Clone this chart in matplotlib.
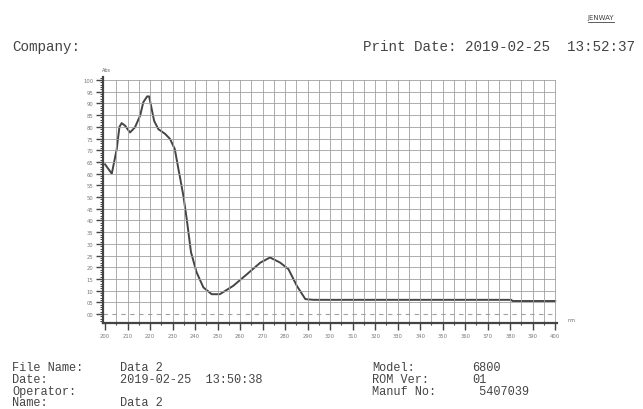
import matplotlib
matplotlib.use('Agg')
import matplotlib.pyplot as plt
from matplotlib.ticker import MultipleLocator, FixedLocator
from matplotlib.lines import Line2D

# scan data (wavelength in nm, absorbance scale 0-100)
wavelength = [200, 203, 205.2, 206.4, 207.4, 208.9, 211.1, 213.3, 215.6, 217, 218.7,
              219.6, 220.3, 221.8, 223.7, 226.7, 228.9, 231, 232.6, 233.3, 234.8,
              236.3, 238.2, 240.7, 243.7, 247.4, 251, 257, 263, 269, 273.3, 277.8,
              281.5, 285.2, 289, 292.6, 380.5, 381, 400]
absorbance = [64, 60, 70.5, 80, 81.6, 80.5, 77.6, 79.8, 84.8, 90.5, 93,
              93, 89.7, 82.6, 79, 77, 74.8, 70.5, 62, 58.5, 50.6,
              40.6, 26.4, 17.8, 11.4, 8.5, 8.5, 12.1, 17, 22, 24.2, 22,
              19.2, 12.1, 6.4, 6.1, 6.1, 5.6, 5.6]

x_ticks = list(range(200, 401, 10))
y_ticks = list(range(0, 101, 5))
y_labels = ['%02d' % v for v in y_ticks]

header_left = 'Company:'
header_right = 'Print Date: 2019-02-25  13:52:37'
footer_left = [('File Name:', 'Data 2'), ('Date:', '2019-02-25  13:50:38'),
               ('Operator:', ''), ('Name:', 'Data 2')]
footer_right = [('Model:', '6800'), ('ROM Ver:', '01'), ('Manuf No:', ' 5407039')]

ink = '#444444'
grid_col = '#a0a0a0'
mono = 'Liberation Mono'

fig = plt.figure(figsize=(6.43, 4.10), dpi=100)
ax = fig.add_axes([103 / 643, 1 - 324 / 410, 454 / 643, 246 / 410])

ax.plot(wavelength, absorbance, color='#454545', lw=1.4)
ax.axhline(0, color=grid_col, lw=0.8, ls=(0, (4, 4)))

ax.set_xlim(199.1, 400.8)
ax.set_ylim(-3.8, 101.3)

# grid every 5 units both ways
for v in range(205, 401, 5):
    ax.axvline(v, ymin=0, ymax=(100 + 3.8) / 105.1, color=grid_col, lw=0.6)
for v in range(5, 101, 5):
    ax.axhline(v, color=grid_col, lw=0.6, xmax=(400 - 199.1) / 201.7)

for s in ['top', 'right']:
    ax.spines[s].set_visible(False)
ax.spines['left'].set_linewidth(1.6)
ax.spines['bottom'].set_linewidth(1.6)
ax.spines['left'].set_color(ink)
ax.spines['bottom'].set_color(ink)

ax.xaxis.set_major_locator(FixedLocator(x_ticks))
ax.xaxis.set_minor_locator(MultipleLocator(5))
ax.set_xticklabels([str(v) for v in x_ticks])
ax.yaxis.set_major_locator(FixedLocator(y_ticks))
ax.yaxis.set_minor_locator(MultipleLocator(1))
ax.set_yticklabels(y_labels)

ax.tick_params(axis='both', which='major', colors=ink, labelcolor='#777777',
               labelsize=3.8, length=5, width=1.0, pad=2)
ax.tick_params(axis='x', which='minor', colors=ink, length=2.5, width=0.8, direction='inout')
ax.tick_params(axis='y', which='minor', colors=ink, length=2.5, width=0.7)

# axis unit marks
fig.text(106 / 643, 1 - 70 / 410, 'Abs', fontsize=3.5, color='#666666', ha='center', va='center')
fig.text(572 / 643, 1 - 321 / 410, 'nm', fontsize=3.5, color='#666666', ha='center', va='center')

# header
fig.text(601 / 643, 1 - 18 / 410, 'JENWAY', fontsize=5, color=ink, ha='center', va='center',
         family='DejaVu Sans')
fig.add_artist(Line2D([588 / 643, 614 / 643], [1 - 23 / 410, 1 - 23 / 410], color=ink, lw=0.6))
fig.text(12 / 643, 1 - 47 / 410, header_left, fontsize=10.3, family=mono, color=ink, va='center')
fig.text(363 / 643, 1 - 47 / 410, header_right, fontsize=10.3, family=mono, color=ink, va='center')

# footer
fs = 8.6
for i, (k, v) in enumerate(footer_left):
    yy = 1 - (368 + i * 11.8) / 410
    fig.text(12 / 643, yy, k, fontsize=fs, family=mono, color=ink, va='center')
    fig.text(120 / 643, yy, v, fontsize=fs, family=mono, color=ink, va='center')
for i, (k, v) in enumerate(footer_right):
    yy = 1 - (368 + i * 11.8) / 410
    fig.text(372 / 643, yy, k, fontsize=fs, family=mono, color=ink, va='center')
    fig.text(472 / 643, yy, v, fontsize=fs, family=mono, color=ink, va='center')

fig.savefig('out.png', dpi=100, facecolor='white')
